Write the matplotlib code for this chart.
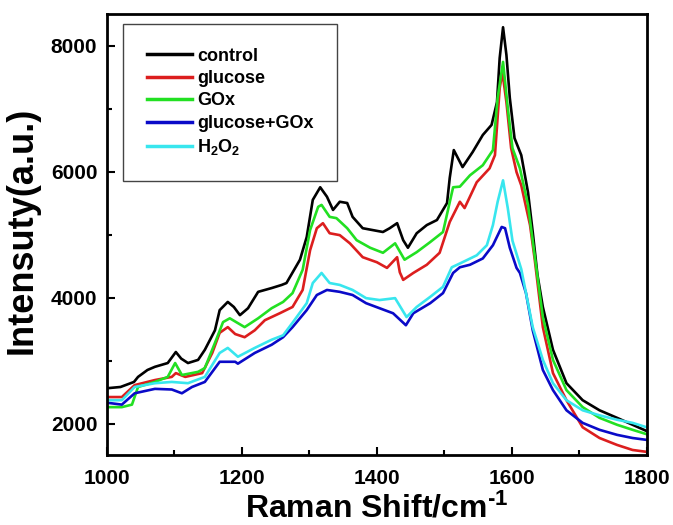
import matplotlib
matplotlib.use('Agg')
import matplotlib.pyplot as plt
from matplotlib.ticker import MultipleLocator

# Raman spectra (Raman shift in cm-1, intensity in a.u.)
control_x = [1000, 1020, 1040, 1046, 1060, 1071, 1090, 1102, 1110, 1120, 1135, 1145, 1160, 1167,
             1179, 1188, 1197, 1209, 1224, 1244, 1259, 1266, 1286, 1296, 1305, 1316, 1326, 1335,
             1345, 1356, 1364, 1379, 1394, 1409, 1419, 1430, 1439, 1446, 1459, 1474, 1489, 1504,
             1508, 1514, 1527, 1542, 1557, 1570, 1578, 1582, 1587, 1592, 1597, 1604, 1614, 1624,
             1631, 1638, 1646, 1661, 1681, 1705, 1730, 1756, 1779, 1800]
control_y = [2560, 2580, 2660, 2740, 2850, 2900, 2960, 3135, 3030, 2960, 3010, 3170, 3480, 3800,
             3930, 3850, 3720, 3830, 4090, 4150, 4200, 4230, 4600, 4960, 5550, 5750, 5600, 5390,
             5520, 5500, 5280, 5100, 5070, 5040, 5100, 5180, 4910, 4790, 5020, 5150, 5230, 5500,
             5900, 6340, 6070, 6310, 6580, 6740, 7100, 7800, 8290, 7850, 7170, 6530, 6260, 5670,
             5040, 4360, 3850, 3170, 2640, 2370, 2210, 2090, 1980, 1880]

glucose_x = [1000, 1022, 1041, 1071, 1096, 1102, 1116, 1141, 1156, 1167, 1179, 1190, 1204, 1219,
             1234, 1256, 1275, 1290, 1301, 1311, 1320, 1330, 1345, 1360, 1379, 1400, 1415, 1430,
             1434, 1439, 1454, 1474, 1493, 1508, 1523, 1530, 1548, 1567, 1575, 1582, 1586, 1592,
             1599, 1607, 1614, 1627, 1634, 1646, 1661, 1681, 1705, 1730, 1756, 1779, 1800]
glucose_y = [2420, 2420, 2610, 2690, 2740, 2800, 2740, 2800, 3120, 3440, 3530, 3420, 3370, 3480,
             3640, 3750, 3850, 4120, 4750, 5100, 5180, 5020, 4990, 4860, 4640, 4560, 4470, 4640,
             4400, 4280, 4390, 4520, 4710, 5200, 5520, 5420, 5830, 6050, 6260, 7320, 7580, 7100,
             6370, 5990, 5780, 5150, 4600, 3530, 2800, 2370, 1940, 1770, 1660, 1580, 1550]

gox_x = [1000, 1022, 1037, 1046, 1071, 1090, 1101, 1111, 1135, 1145, 1160, 1172, 1182, 1204,
         1224, 1244, 1261, 1275, 1290, 1301, 1313, 1318, 1330, 1340, 1356, 1370, 1390, 1409,
         1427, 1441, 1459, 1479, 1498, 1513, 1523, 1538, 1557, 1572, 1579, 1587, 1594, 1601,
         1612, 1624, 1631, 1646, 1661, 1681, 1705, 1730, 1756, 1779, 1800]
gox_y = [2260, 2260, 2300, 2580, 2660, 2740, 2960, 2770, 2820, 2880, 3280, 3610, 3670, 3530,
         3670, 3830, 3930, 4070, 4440, 5070, 5440, 5470, 5280, 5260, 5100, 4910, 4790, 4710,
         4860, 4600, 4720, 4880, 5040, 5750, 5760, 5940, 6100, 6340, 7170, 7740, 7010, 6370,
         6050, 5470, 4900, 3690, 3010, 2530, 2260, 2090, 1980, 1900, 1830]

glu_gox_x = [1000, 1022, 1041, 1071, 1096, 1111, 1126, 1145, 1167, 1190, 1194, 1219, 1244, 1261,
             1275, 1296, 1311, 1326, 1345, 1364, 1384, 1404, 1424, 1443, 1454, 1479, 1498, 1513,
             1523, 1538, 1557, 1572, 1585, 1590, 1597, 1607, 1612, 1621, 1631, 1646, 1661, 1681,
             1705, 1730, 1756, 1779, 1800]
glu_gox_y = [2330, 2300, 2480, 2550, 2540, 2480, 2580, 2660, 2980, 2980, 2950, 3120, 3250, 3370,
             3530, 3800, 4040, 4120, 4090, 4040, 3910, 3830, 3750, 3560, 3750, 3910, 4070, 4390,
             4480, 4520, 4620, 4830, 5120, 5100, 4790, 4470, 4390, 4070, 3480, 2850, 2530, 2210,
             2010, 1900, 1820, 1770, 1740]

h2o2_x = [1000, 1022, 1041, 1071, 1096, 1120, 1145, 1167, 1179, 1194, 1219, 1244, 1261, 1275,
          1296, 1305, 1318, 1330, 1345, 1364, 1384, 1404, 1427, 1444, 1459, 1479, 1498, 1511,
          1523, 1548, 1563, 1572, 1579, 1587, 1594, 1601, 1614, 1631, 1646, 1661, 1681, 1705,
          1730, 1756, 1779, 1800]
h2o2_y = [2370, 2370, 2580, 2640, 2660, 2640, 2740, 3120, 3200, 3060, 3200, 3330, 3400, 3600,
          3910, 4230, 4390, 4230, 4200, 4120, 3990, 3960, 3990, 3690, 3850, 4010, 4170, 4480,
          4540, 4670, 4830, 5150, 5520, 5860, 5420, 4900, 4450, 3530, 3010, 2640, 2370, 2210,
          2130, 2060, 2010, 1940]

plt.rcParams['font.family'] = ['Liberation Sans', 'DejaVu Sans']
plt.rcParams['font.weight'] = 'bold'
plt.rcParams['mathtext.fontset'] = 'custom'
plt.rcParams['mathtext.rm'] = 'Liberation Sans:bold'
plt.rcParams['mathtext.bf'] = 'Liberation Sans:bold'
plt.rcParams['mathtext.it'] = 'Liberation Sans:bold'

fig = plt.figure(figsize=(6.73, 5.25), dpi=100)
ax = fig.add_axes([0.159, 0.1333, 0.802, 0.84])

lw = 1.9
ax.plot(control_x, control_y, color='#000000', lw=lw, label='control')
ax.plot(glucose_x, glucose_y, color='#dc1e1e', lw=lw, label='glucose')
ax.plot(gox_x, gox_y, color='#22e022', lw=lw, label='GOx')
ax.plot(glu_gox_x, glu_gox_y, color='#0a0ac8', lw=lw, label='glucose+GOx')
ax.plot(h2o2_x, h2o2_y, color='#38e6ee', lw=lw, label='H$_2$O$_2$')

ax.set_xlim(1000, 1800)
ax.set_ylim(1500, 8500)
ax.xaxis.set_major_locator(MultipleLocator(200))
ax.xaxis.set_minor_locator(MultipleLocator(100))
ax.yaxis.set_major_locator(MultipleLocator(2000))
ax.yaxis.set_minor_locator(MultipleLocator(1000))
ax.tick_params(which='both', direction='in', width=1.5, labelsize=15)
ax.tick_params(axis='x', pad=10)
ax.tick_params(axis='y', pad=7)
ax.tick_params(which='major', length=6)
ax.tick_params(which='minor', length=3.5)
for s in ax.spines.values():
    s.set_linewidth(2)

ax.set_xlabel('Raman Shift/cm$^{\u2011 1}$', fontsize=23, fontweight='bold', labelpad=4)
ax.set_ylabel('Intensuty(a.u.)', fontsize=26, fontweight='bold')
ax.yaxis.set_label_coords(-0.125, 0.51)

leg = ax.legend(loc='upper left', bbox_to_anchor=(0.03, 0.977), fontsize=13,
                handlelength=2.5, handletextpad=0.3, labelspacing=0.3,
                borderpad=1.3, borderaxespad=0, fancybox=False, framealpha=1)
leg.get_frame().set_edgecolor('#444444')
leg.get_frame().set_linewidth(1)
for line in leg.get_lines():
    line.set_linewidth(2.5)

fig.savefig('out.png', dpi=100)
